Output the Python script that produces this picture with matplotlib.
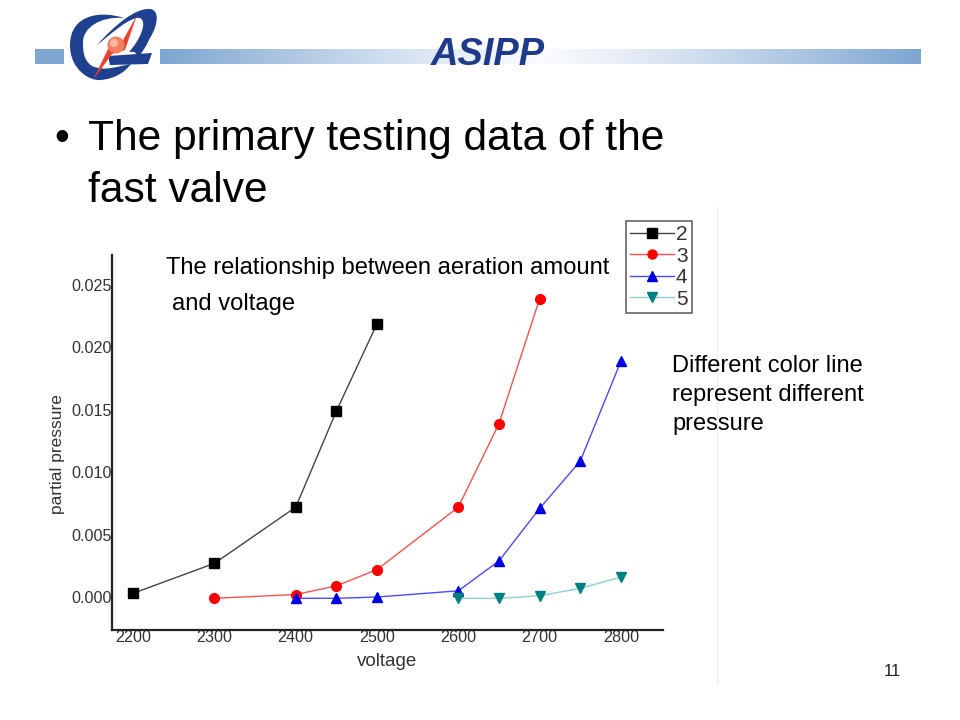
import matplotlib
matplotlib.use("Agg")
import matplotlib.pyplot as plt
import numpy as np
from matplotlib.path import Path
from matplotlib.patches import PathPatch, Circle, Polygon, Rectangle

plt.rcParams["font.family"] = ["Liberation Sans", "DejaVu Sans"]

# Data
volt_2 = [2200, 2300, 2400, 2450, 2500]
pres_2 = [0.0003, 0.0027, 0.0072, 0.0149, 0.0219]
volt_3 = [2300, 2400, 2450, 2500, 2600, 2650, 2700]
pres_3 = [-0.0001, 0.0002, 0.0009, 0.0022, 0.0072, 0.0139, 0.0239]
volt_4 = [2400, 2450, 2500, 2600, 2650, 2700, 2750, 2800]
pres_4 = [-0.0001, -0.0001, 0.0, 0.0005, 0.0029, 0.0071, 0.0109, 0.0189]
volt_5 = [2600, 2650, 2700, 2750, 2800]
pres_5 = [-0.0001, -0.0001, 0.0001, 0.0007, 0.0016]
x_ticks = [2200, 2300, 2400, 2500, 2600, 2700, 2800]
y_ticks = [0.000, 0.005, 0.010, 0.015, 0.020, 0.025]

fig = plt.figure(figsize=(9.6, 7.2), dpi=100)

# Slide background, in pixel coordinates
bg = fig.add_axes([0, 0, 1, 1])
bg.axis("off")

blue = np.array([0.49, 0.65, 0.82])
pale = np.array([0.98, 0.985, 0.995])
bg.add_patch(Rectangle((35, 49), 29, 15, color=blue, lw=0))
t = np.abs(np.linspace(-1, 1, 256)) ** 1.2
grad = (pale + (blue - pale) * t[:, None])[None, :, :]
bg.imshow(grad, extent=(160, 921, 64, 49), aspect="auto", zorder=1)
bg.set_xlim(0, 960)
bg.set_ylim(720, 0)
bg.plot([717, 717], [207, 683], color="#eeeeee", lw=1)

# Logo
navy = "#1f3f8f"
c4 = Path.CURVE4
ring = Path([(124, 18), (100, 10), (70, 15), (70, 45), (70, 70), (90, 81), (100, 80),
             (115, 79), (125, 72), (131, 64), (118, 66), (105, 72), (92, 66),
             (83, 60), (83, 50), (83, 42), (83, 28), (100, 16), (124, 18)],
            [Path.MOVETO] + [c4] * 18)
loop = Path([(97, 45), (115, 25), (135, 8), (150, 9), (160, 10), (158, 25), (150, 38),
             (145, 48), (142, 53), (138, 57), (135, 50), (132, 52), (129, 52),
             (140, 40), (148, 22), (140, 18), (130, 16), (110, 35), (97, 45)],
            [Path.MOVETO] + [c4] * 18)
bg.add_patch(PathPatch(ring, fc=navy, ec="none", zorder=3))
bg.add_patch(PathPatch(loop, fc=navy, ec="none", zorder=3))
bg.add_patch(Polygon([(108, 56), (152, 53), (148, 64), (110, 65)], color=navy, lw=0, zorder=3))
bg.add_patch(Polygon([(93, 80), (109, 47), (122, 42), (137, 15), (125, 50), (112, 54)], color="#e8452c", lw=0, zorder=4))
bg.add_patch(Circle((116, 45), 8.5, color="#f08060", lw=0, zorder=5))
bg.add_patch(Circle((114, 43), 4, color="#f8b8a0", lw=0, zorder=5))

# Slide text
bg.text(488, 55, "ASIPP", fontsize=27.4, fontweight="bold", fontstyle="italic", color="#1f3a8a",
        ha="center", va="center", zorder=6)
bg.text(54, 139, "•", fontsize=30.6, ha="left", va="center")
bg.text(88, 139, "The primary testing data of the", fontsize=30.6, ha="left", va="center")
bg.text(88, 191, "fast valve", fontsize=30.6, ha="left", va="center")
bg.text(672, 366, "Different color line", fontsize=17, ha="left", va="center")
bg.text(672, 395, "represent different", fontsize=17, ha="left", va="center")
bg.text(672, 424, "pressure", fontsize=17, ha="left", va="center")
bg.text(892, 672, "11", fontsize=12, ha="center", va="center", color="#222222")

# Chart
ax = fig.add_axes([112 / 960, 1 - 630 / 720, 551 / 960, 375 / 720])
ax.patch.set_alpha(0)
ax.plot(volt_2, pres_2, color="#444444", lw=1, marker="s", ms=6.5, mfc="black", mec="black", label="2", clip_on=False)
ax.plot(volt_3, pres_3, color="#ff5050", lw=1, marker="o", ms=7, mfc="red", mec="red", label="3", clip_on=False)
ax.plot(volt_4, pres_4, color="#4a4aff", lw=1, marker="^", ms=7.5, mfc="#0000e0", mec="#0000e0", label="4", clip_on=False)
ax.plot(volt_5, pres_5, color="#8fd0d0", lw=1, marker="v", ms=7.5, mfc="#008080", mec="#008080", label="5", clip_on=False)

ax.set_xlim(2174, 2851.7)
ax.set_ylim(-0.00264, 0.0274)
ax.set_xticks(x_ticks)
ax.set_yticks(y_ticks)
ax.set_yticklabels(["%.3f" % v for v in y_ticks])
ax.tick_params(length=0, labelsize=11.6, labelcolor="#333333", pad=0)
ax.spines["top"].set_visible(False)
ax.spines["right"].set_visible(False)
ax.spines["left"].set_linewidth(1.6)
ax.spines["bottom"].set_linewidth(1.6)
ax.spines["left"].set_color("#222222")
ax.spines["bottom"].set_color("#222222")
ax.set_xlabel("voltage", fontsize=13.5, color="#333333", labelpad=6)
ax.set_ylabel("partial pressure", fontsize=12.5, color="#333333")
ax.yaxis.set_label_coords(-0.085, (630 - 454) / 375)

leg = ax.legend(loc="upper left", bbox_to_anchor=(626 / 960, 1 - 221 / 720), bbox_transform=fig.transFigure,
                fancybox=False, framealpha=1, edgecolor="#666666", fontsize=15, labelspacing=0.12,
                handlelength=2.1, handletextpad=0.1, borderpad=0.2, borderaxespad=0, labelcolor="#333333")
leg.get_frame().set_linewidth(1.2)
for h in leg.get_lines():
    h.set_markersize(6.5)

ax.text(166, 268, "The relationship between aeration amount", fontsize=17.1, ha="left", va="center",
        transform=bg.transData, clip_on=False)
ax.text(172, 304, "and voltage", fontsize=17.1, ha="left", va="center", transform=bg.transData, clip_on=False)

fig.savefig("out.png", dpi=100)
